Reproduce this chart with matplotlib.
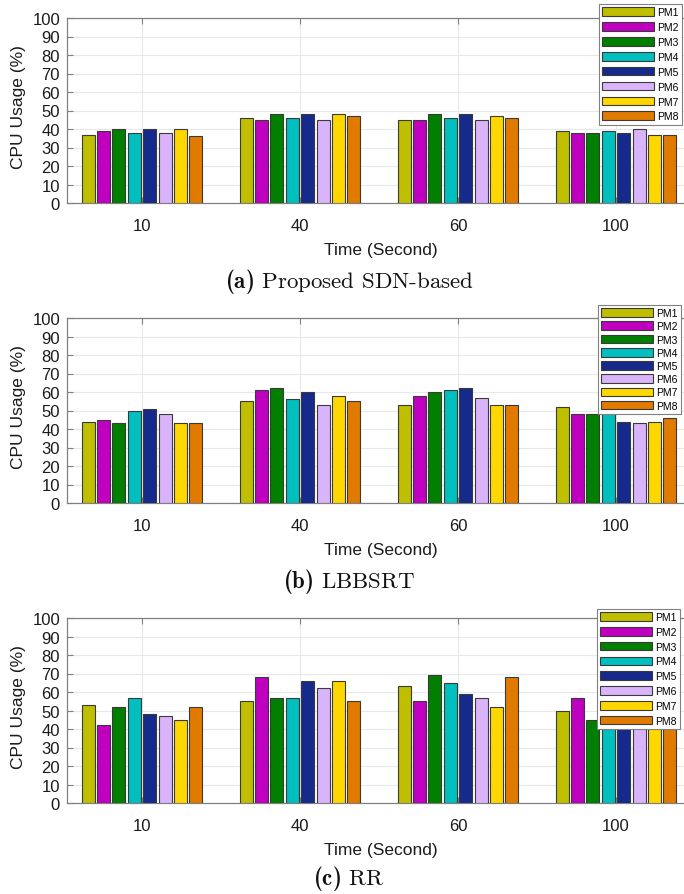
import matplotlib
matplotlib.use('Agg')

import numpy as np
import matplotlib.pyplot as plt

plt.rcParams['font.family'] = ['Liberation Sans', 'DejaVu Sans']
plt.rcParams['mathtext.fontset'] = 'custom'
plt.rcParams['mathtext.rm'] = 'cmr10'
plt.rcParams['mathtext.bf'] = 'cmb10'

# CPU usage per PM at each sampling time
times = ['10', '40', '60', '100']
pm_names = ['PM1', 'PM2', 'PM3', 'PM4', 'PM5', 'PM6', 'PM7', 'PM8']
pm_colors = ['#bfbf00', '#bf00bf', '#007f00', '#00bfbf',
             '#152a8a', '#dab4fb', '#ffd700', '#e07b00']

usage_sdn = [
    [37, 46, 45, 39],
    [39, 45, 45, 38],
    [40, 48, 48, 38],
    [38, 46, 46, 39],
    [40, 48, 48, 38],
    [38, 45, 45, 40],
    [40, 48, 47, 37],
    [36, 47, 46, 37],
]
usage_lbbsrt = [
    [44, 55, 53, 52],
    [45, 61, 58, 48],
    [43, 62, 60, 48],
    [50, 56, 61, 52],
    [51, 60, 62, 44],
    [48, 53, 57, 43],
    [43, 58, 53, 44],
    [43, 55, 53, 46],
]
usage_rr = [
    [53, 55, 63, 50],
    [42, 68, 55, 57],
    [52, 57, 69, 45],
    [57, 57, 65, 52],
    [48, 66, 59, 48],
    [47, 62, 57, 55],
    [45, 66, 52, 50],
    [52, 55, 68, 53],
]

captions = [(r'$\mathbf{(a)}$', 'Proposed SDN-based'),
            (r'$\mathbf{(b)}$', 'LBBSRT'),
            (r'$\mathbf{(c)}$', 'RR')]

W, H = 684, 895
fig = plt.figure(figsize=(W / 100, H / 100), dpi=100)

# (axes top px, axes bottom px, legend top px, legend right px, label spacing, caption y px)
panels = [
    (usage_sdn, 19, 204, 5, 682, 0.47, 282),
    (usage_lbbsrt, 319, 504, 306, 681, 0.31, 582),
    (usage_rr, 619, 804, 610, 680, 0.46, 879),
]

ax_left, ax_right = 67, 695
slot = 0.0975
bar_w = 0.082
x = np.arange(1, len(times) + 1)

for k, (data, top, bot, leg_top, leg_right, lsp, cap_y) in enumerate(panels):
    ax = fig.add_axes([ax_left / W, 1 - bot / H, (ax_right - ax_left) / W, (bot - top) / H])
    for i, (vals, c, name) in enumerate(zip(data, pm_colors, pm_names)):
        ax.bar(x + (i - 3.5) * slot, vals, width=bar_w, color=c,
               edgecolor='#3a3a3a', linewidth=0.8, label=name, zorder=3)

    ax.set_xlim(0.525, 4.5)
    ax.set_ylim(0, 100)
    ax.set_yticks(np.arange(0, 101, 10))
    ax.set_xticks(x)
    ax.set_xticklabels(times)
    ax.grid(True, color='#e8e8e8', linewidth=0.8, zorder=0)
    ax.set_axisbelow(True)
    for side in ['left', 'top', 'bottom', 'right']:
        ax.spines[side].set_color('#808080')
        ax.spines[side].set_linewidth(0.9)
    ax.tick_params(direction='in', length=4, width=0.8, color='#808080',
                   labelcolor='#1a1a1a', labelsize=12, top=True, right=True)
    ax.tick_params(axis='y', pad=5)
    ax.tick_params(axis='x', pad=11)

    ax.set_ylabel('CPU Usage (%)', fontsize=12.5, color='#1a1a1a')
    ax.yaxis.set_label_coords(-0.078, 0.525)
    ax.yaxis.label.set_va('center')
    ax.set_xlabel('Time (Second)', fontsize=12.5, color='#1a1a1a')
    ax.xaxis.set_label_coords(0.5, -0.249)
    ax.xaxis.label.set_va('center')

    leg = ax.legend(loc='upper right', bbox_to_anchor=(leg_right / W, 1 - leg_top / H),
                    bbox_transform=fig.transFigure, borderaxespad=0, fontsize=7.5,
                    handlelength=5.0, handleheight=0.9, handletextpad=0.35,
                    labelspacing=lsp, borderpad=0.3, fancybox=False, framealpha=1,
                    edgecolor='#808080')
    leg.get_frame().set_linewidth(0.8)
    leg.set_zorder(10)

    # bold panel tag followed by the caption text, centred as one line
    tag, name = captions[k]
    fig.text(349 / W, 1 - cap_y / H, tag + ' ' + name, ha='center', va='center',
             fontsize=16.5, family='cmr10', color='#111111')

fig.savefig('out.png', dpi=100, facecolor='white')
